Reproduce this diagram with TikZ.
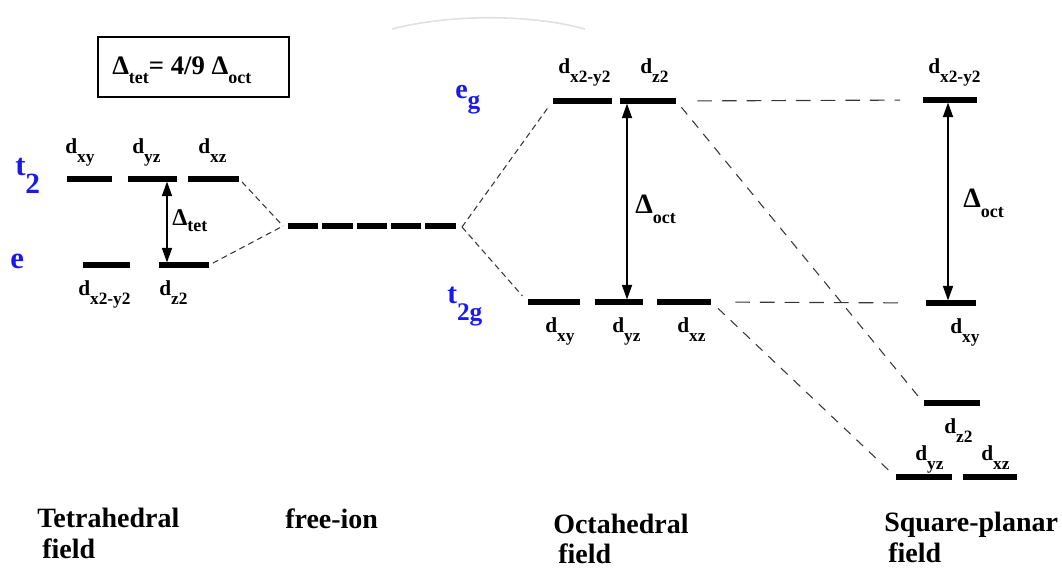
\documentclass[tikz,border=0pt]{standalone}
\usepackage{fontspec}
\setmainfont{Liberation Serif}
\usetikzlibrary{arrows.meta}
\definecolor{lblue}{RGB}{25,25,235}
\definecolor{dashgray}{RGB}{55,55,55}
\newcommand{\dorb}[1]{d\raisebox{-7pt}{\fontsize{13}{13}\selectfont #1}}
\newcommand{\dsub}[2]{\raisebox{-#1}{\fontsize{13.5}{13.5}\selectfont #2}}
\newcommand{\lev}[4]{\node[lev, minimum width={(#3-#2)*0.75pt}] (#1) at ({(#2+#3)/2},#4) {};}
\begin{document}
\begin{tikzpicture}[x=0.75pt, y=-0.75pt,
  lev/.style={fill=black, inner sep=0pt, minimum height=3.9pt},
  conn/.style={draw=dashgray, line width=0.8pt, dash pattern=on 4.5pt off 3pt},
  connlong/.style={draw=dashgray, line width=0.8pt, dash pattern=on 7pt off 6pt},
  connhor/.style={draw=dashgray, line width=0.85pt, dash pattern=on 11pt off 7.5pt},
  gap/.style={line width=1.4pt, {Triangle[length=11pt,width=7.5pt]}-{Triangle[length=11pt,width=7.5pt]}},
  orb/.style={anchor=base west, inner sep=0pt, font=\bfseries\fontsize{16}{16}\selectfont},
  blue lbl/.style={anchor=base west, inner sep=0pt, text=lblue, font=\bfseries\fontsize{23}{23}\selectfont},
  field lbl/.style={anchor=base west, inner sep=0pt, font=\bfseries\fontsize{21}{21}\selectfont},
  dlt/.style={anchor=base west, inner sep=0pt, font=\bfseries\fontsize{21}{21}\selectfont}]
\useasboundingbox (0,0) rectangle (1062,568);
% faint arc at top
\draw[black!12, line width=1.2pt] (392,29) .. controls (450,14) and (530,14) .. (585,29);

% formula box
\node[draw, line width=1.5pt, minimum width=191*0.75pt, minimum height=60*0.75pt, inner sep=0pt] (box) at (193.5,67) {};
\node[anchor=base west, inner sep=0pt, font=\bfseries\fontsize{20}{20}\selectfont] (boxtxt) at (112,74)
  {Δ\dsub{7pt}{tet}= 4/9 Δ\dsub{7pt}{oct}};

% ---------- tetrahedral ----------
\lev{txy}{67}{112}{179}
\lev{tyz}{128}{177}{179}
\lev{txz}{188}{239}{179}
\lev{ex}{83}{130}{265}
\lev{ez}{159}{209}{265}
\node[orb] (ltxy) at (65,153) {\dorb{xy}};
\node[orb] (ltyz) at (132,153) {\dorb{yz}};
\node[orb] (ltxz) at (198,153) {\dorb{xz}};
\node[orb] (lex) at (78,295) {\dorb{x2-y2}};
\node[orb] (lez) at (159,295) {\dorb{z2}};
\node[blue lbl] (lt2) at (15,175) {t\raisebox{-13.5pt}{\fontsize{22}{22}\selectfont 2}};
\node[blue lbl] (le) at (10,268) {e};
\coordinate (a1) at (167,181.5);
\coordinate (a2) at (167,262.5);
\draw[gap] (a1) -- (a2);
\node[anchor=base west, inner sep=0pt, font=\bfseries\fontsize{18}{18}\selectfont] (ldt) at (172,225) {Δ\dsub{5pt}{tet}};

% ---------- octahedral ----------
\lev{ox}{553}{612}{101}
\lev{oz}{620}{676}{101}
\lev{oxy}{528}{580}{302}
\lev{oyz}{595}{643}{302}
\lev{oxz}{657}{711}{302}
\node[orb] (lox) at (558,73) {\dorb{x2-y2}};
\node[orb] (loz) at (640,73) {\dorb{z2}};
\node[orb] (loxy) at (545,332) {\dorb{xy}};
\node[orb] (loyz) at (612,332) {\dorb{yz}};
\node[orb] (loxz) at (677,332) {\dorb{xz}};
\node[blue lbl, font=\bfseries\fontsize{21}{21}\selectfont] (leg) at (455,98) {e\raisebox{-8pt}{\fontsize{19}{19}\selectfont g}};
\node[blue lbl, font=\bfseries\fontsize{22}{22}\selectfont] (lt2g) at (447,303) {t\raisebox{-12.75pt}{\fontsize{19}{19}\selectfont 2g}};
\coordinate (b1) at (627,103.5);
\coordinate (b2) at (627,299.5);
\draw[gap] (b1) -- (b2);
\node[dlt] (ldo) at (635,213) {Δ\dsub{7.5pt}{oct}};

% ---------- free ion ----------
\node[inner sep=0pt, minimum width=126pt, minimum height=3.9pt] (free) at (372,226) {};
\draw[line width=3.9pt, dash pattern=on 22.8pt off 3pt] (free.west) -- (free.east);
\coordinate (fL) at (283,226);
\coordinate (fR) at (462,227);
\draw[conn, shorten <=3pt] (txz.east) -- (fL);
\draw[conn, shorten <=3pt] (ez.east) -- (fL);
\draw[conn, shorten >=4pt] (fR) -- (ox.west);
\draw[conn, shorten >=6pt] (fR) -- (oxy.west);

% ---------- square planar ----------
\lev{sx}{923}{977}{100}
\lev{sxy}{926}{976}{303}
\lev{sz}{924}{980}{403}
\lev{syz}{896}{952}{477}
\lev{sxz}{963}{1017}{477}
\node[orb] (lsx) at (928,73) {\dorb{x2-y2}};
\node[orb] (lsxy) at (950,333) {\dorb{xy}};
\node[orb] (lsz) at (944,433) {\dorb{z2}};
\node[orb] (lsyz) at (915,460) {\dorb{yz}};
\node[orb] (lsxz) at (981,460) {\dorb{xz}};
\coordinate (c1) at (948,102.5);
\coordinate (c2) at (948,300.5);
\draw[gap] (c1) -- (c2);
\node[dlt] (lds) at (963,207) {Δ\dsub{7.5pt}{oct}};

% connectors octahedral -> square planar
\draw[connhor, shorten <=15.75pt, shorten >=17pt] (oz.east) -- (sx.west);
\draw[connhor, shorten <=18pt, shorten >=19.5pt] (oxz.east) -- (sxy.west);
\draw[connlong, shorten <=6pt, shorten >=4pt] (oz.east) -- (sz.west);
\draw[connlong, shorten <=7pt, shorten >=4pt] (oxz.east) -- (syz.west);

% ---------- field labels ----------
\node[field lbl] (f1) at (37,527) {Tetrahedral};
\node[field lbl] (f1b) at (42,558) {field};
\node[field lbl] (f2) at (285,528) {free-ion};
\node[field lbl] (f3) at (553,533) {Octahedral};
\node[field lbl] (f3b) at (558,563) {field};
\node[field lbl] (f4) at (884,531) {Square-planar};
\node[field lbl] (f4b) at (888,562) {field};
\end{tikzpicture}
\end{document}
